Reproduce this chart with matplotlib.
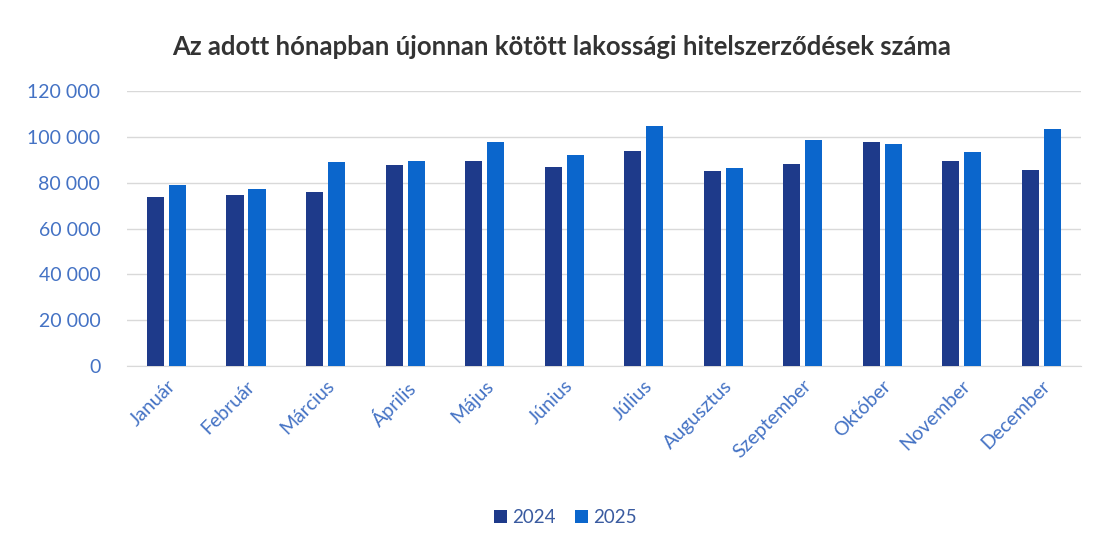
import matplotlib
matplotlib.use("Agg")
import matplotlib.pyplot as plt
import numpy as np

plt.rcParams['font.family'] = ['Lato', 'DejaVu Sans']

honapok = ['Január', 'Február', 'Március', 'Április', 'Május', 'Június',
           'Július', 'Augusztus', 'Szeptember', 'Október', 'November', 'December']
ev_2024 = [73700, 74600, 75800, 87600, 89400, 86900,
           93600, 85200, 88300, 97600, 89500, 85500]
ev_2025 = [79000, 77200, 88900, 89600, 97900, 92000,
           104600, 86600, 98600, 96800, 93500, 103600]
y_ticks = [0, 20000, 40000, 60000, 80000, 100000, 120000]

cim = 'Az adott hónapban újonnan kötött lakossági hitelszerződések száma'
sotet = '#1E3A8A'
vilagos = '#0B66CC'
szoveg = '#4472C4'

fig = plt.figure(figsize=(11.02, 5.48), dpi=100)
ax = fig.add_axes([0.115, 0.332, 0.866, 0.502])

x = np.arange(len(honapok))
w = 0.215
ax.bar(x - 0.138, ev_2024, w, color=sotet, label='2024', zorder=3)
ax.bar(x + 0.138, ev_2025, w, color=vilagos, label='2025', zorder=3)

ax.set_xlim(-0.5, len(honapok) - 0.5)
ax.set_ylim(0, 120000)
ax.set_yticks(y_ticks)
ax.set_yticklabels([f'{v:,}'.replace(',', ' ') for v in y_ticks],
                   color=szoveg, fontsize=14)
ax.set_xticks(x)
ax.set_xticklabels(honapok, rotation=45, ha='right', rotation_mode='anchor',
                   color=szoveg, fontsize=14)
ax.tick_params(axis='y', length=0, pad=19)
ax.tick_params(axis='x', length=0, pad=8)
ax.grid(axis='y', color='#D9D9D9', linewidth=1, zorder=0)
for s in ['top', 'right', 'left']:
    ax.spines[s].set_visible(False)
ax.spines['bottom'].set_color('#D9D9D9')

fig.text(0.51, 0.915, cim, ha='center', va='center', fontsize=18.5,
         fontweight='bold', color='#333333')

fig.legend(loc='center', bbox_to_anchor=(0.513, 0.055), ncol=2, frameon=False,
           fontsize=13.5, handlelength=0.7, handleheight=0.7, columnspacing=1.0,
           handletextpad=0.3, labelcolor='#3A5BA0')

fig.savefig('out.png', dpi=100)
